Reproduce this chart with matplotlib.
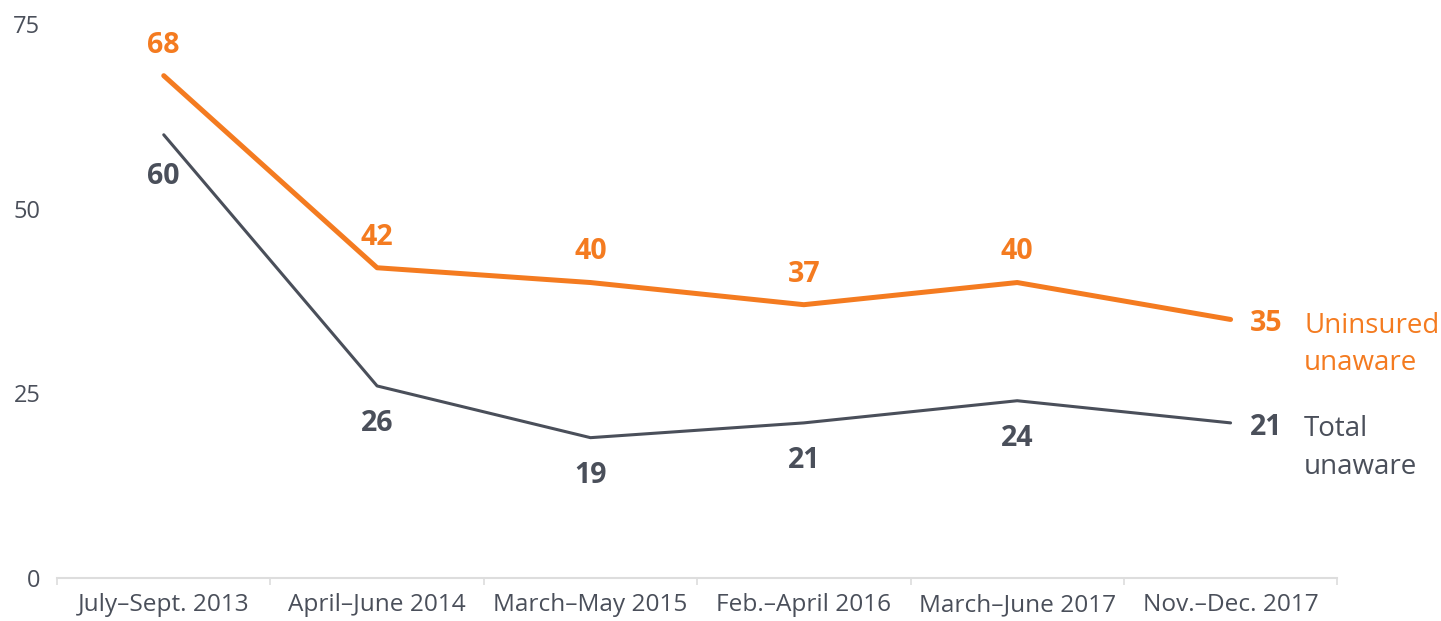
import numpy as np
import matplotlib.pyplot as plt

# Data
periods = ["July\u2013Sept. 2013", "April\u2013June 2014", "March\u2013May 2015",
           "Feb.\u2013April 2016", "March\u2013June 2017", "Nov.\u2013Dec. 2017"]
uninsured_unaware = [68, 42, 40, 37, 40, 35]
total_unaware = [60, 26, 19, 21, 24, 21]

orange = "#F47B20"
gray = "#4A4F5A"

plt.rcParams['font.family'] = ['Open Sans', 'DejaVu Sans']

fig = plt.figure(figsize=(14.41, 6.21), dpi=100)
ax = fig.add_axes([0.0396, 0.0692, 0.8884, 0.8922])

x = np.arange(len(periods))
ax.plot(x, uninsured_unaware, color=orange, lw=3.6, solid_capstyle='round')
ax.plot(x, total_unaware, color=gray, lw=2.2, solid_capstyle='round')

# value labels
for i, (u, t) in enumerate(zip(uninsured_unaware, total_unaware)):
    if i < len(x) - 1:
        ax.annotate(str(u), (i, u), xytext=(0, 22), textcoords='offset points',
                    ha='center', va='center', color=orange, fontsize=20.5, fontweight='bold')
        dy = -30 if i == 0 else -27
        ax.annotate(str(t), (i, t), xytext=(0, dy), textcoords='offset points',
                    ha='center', va='center', color=gray, fontsize=20.5, fontweight='bold')
    else:
        ax.annotate(str(u), (i, u), xytext=(14, -3), textcoords='offset points',
                    ha='left', va='center', color=orange, fontsize=20.5, fontweight='bold')
        ax.annotate(str(t), (i, t), xytext=(14, -3), textcoords='offset points',
                    ha='left', va='center', color=gray, fontsize=20.5, fontweight='bold')

# series labels
ax.annotate("Uninsured\nunaware", (x[-1], uninsured_unaware[-1]), xytext=(53, -18),
            textcoords='offset points', ha='left', va='center', color=orange,
            fontsize=20, linespacing=1.45, annotation_clip=False)
ax.annotate("Total\nunaware", (x[-1], total_unaware[-1]), xytext=(53, -18),
            textcoords='offset points', ha='left', va='center', color=gray,
            fontsize=20, linespacing=1.45, annotation_clip=False)

ax.set_xlim(-0.5, len(x) - 0.5)
ax.set_ylim(0, 75)
ax.set_yticks([0, 25, 50, 75])
ax.set_xticks(x)
ax.set_xticklabels(periods)
ax.set_xticks(np.arange(-0.5, len(x), 1), minor=True)

for s in ['top', 'right', 'left']:
    ax.spines[s].set_visible(False)
ax.spines['bottom'].set_color('#DDDDDD')
ax.spines['bottom'].set_linewidth(1.5)

ax.tick_params(axis='x', which='major', length=0, pad=11, labelsize=17.6, labelcolor=gray)
ax.tick_params(axis='x', which='minor', length=5, width=1.2, color='#DDDDDD')
ax.tick_params(axis='y', length=0, pad=12, labelsize=17, labelcolor=gray)

fig.savefig("out.png", dpi=100)
